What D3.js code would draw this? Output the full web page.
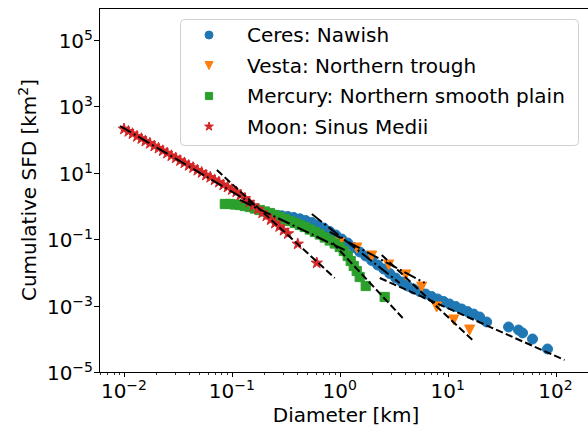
<!DOCTYPE html>
<html>
<head>
<meta charset="utf-8">
<script src="https://cdn.jsdelivr.net/npm/d3@7"></script>
<style>
  body { margin: 0; background: #fff; }
  svg { display: block; font-family: "DejaVu Sans", sans-serif; }
</style>
</head>
<body>
<svg id="chart" width="588" height="429"></svg>
<script>
// Data (diameter in km, cumulative SFD in km^-2)
// -----------------------------------------------
const ceresD = [0.225, 0.255, 0.290, 0.330, 0.375, 0.427, 0.484, 0.551, 0.626, 0.711, 0.808, 0.918,
  1.043, 1.186, 1.348, 1.531, 1.741, 1.978, 2.249, 2.555, 2.904, 3.30, 3.75, 4.26, 4.84, 5.51, 6.25,
  7.11, 8.08, 9.18, 10.4, 11.9, 13.5, 15.3, 17.4, 19.8, 23.0, 36.7, 45.4, 49.5, 61.2, 84.3];
const ceresN = [0.536, 0.525, 0.507, 0.483, 0.451, 0.411, 0.366, 0.318, 0.268, 0.217, 0.171, 0.134,
  0.1014, 0.0769, 0.0562, 0.0412, 0.0312, 0.0228, 0.0167, 0.01265, 0.00927, 0.00678, 0.00514, 0.00389,
  0.00316, 0.00266, 0.00223, 0.00188, 0.00158, 0.00133, 0.00112, 0.00094, 0.00079, 0.00066, 0.000558,
  0.000454, 0.000321, 0.000227, 0.000184, 0.000150, 0.0000986, 0.0000493];

const vestaD = [1.00, 1.44, 1.98, 2.84, 4.08, 5.75, 7.91, 11.4, 16.0];
const vestaN = [0.0769, 0.0543, 0.0312, 0.0167, 0.00836, 0.00363, 0.000908, 0.000368, 0.000184];

const mercuryD = [0.0861, 0.0958, 0.1066, 0.1187, 0.1318, 0.1468, 0.163, 0.1816, 0.2022, 0.2249,
  0.2502, 0.278, 0.3097, 0.3444, 0.383, 0.4266, 0.4742, 0.5275, 0.5871, 0.653, 0.7263, 0.808, 0.8987,
  1.0, 1.089, 1.186, 1.264, 1.348, 1.437, 1.531, 1.741, 2.61];
const mercuryN = [1.15, 1.15, 1.11, 1.07, 1.00, 0.933, 0.841, 0.758, 0.683, 0.615, 0.536, 0.466, 0.406,
  0.353, 0.308, 0.268, 0.233, 0.196, 0.165, 0.1386, 0.1125, 0.0914, 0.0742, 0.0582, 0.0441, 0.0312,
  0.0220, 0.0156, 0.0110, 0.00727, 0.00389, 0.00182];

const moonD = [0.0100, 0.0110, 0.0120, 0.0132, 0.0145, 0.0158, 0.0174, 0.0191, 0.0209, 0.0229, 0.0251,
  0.0275, 0.0302, 0.0331, 0.0363, 0.0398, 0.0437, 0.0479, 0.0525, 0.0575, 0.0631, 0.0692, 0.0759, 0.0832,
  0.0912, 0.100, 0.110, 0.120, 0.132, 0.145, 0.158, 0.174, 0.191, 0.209, 0.229, 0.251, 0.275, 0.302,
  0.331, 0.408, 0.612];
const moonN = [208, 176, 150, 125, 107, 90, 77, 64, 55, 46, 39, 32.5, 28, 23.2, 19.9, 16.6, 14.3, 11.9,
  10.2, 8.5, 7.3, 6.1, 5.2, 4.3, 3.7, 3.1, 2.65, 2.12, 1.68, 1.30, 1.01, 0.80, 0.62, 0.50, 0.385, 0.305,
  0.24, 0.185, 0.147, 0.0717, 0.0192];

// Power-law fits: [D start, D end] and [N start, N end] per segment
const ceresFitD = [[0.551, 3.59], [2.35, 121]];
const ceresFitN = [[0.574, 0.0048], [0.00678, 0.0000230]];
const vestaFitD = [[0.808, 6.12], [2.45, 17.0]];
const vestaFitN = [[0.165, 0.0048], [0.0334, 0.000092]];
const mercuryFitD = [[0.1187, 1.11], [0.861, 3.83]];
const mercuryFitN = [[1.52, 0.0473], [0.0769, 0.000424]];
const moonFitD = [[0.00918, 0.163], [0.0726, 0.899]];
const moonFitN = [[257, 1.07], [12.1, 0.00678]];

const seriesNames = ["Ceres: Nawish", "Vesta: Northern trough", "Mercury: Northern smooth plain", "Moon: Sinus Medii"];
const xTicks = [1e-2, 1e-1, 1e0, 1e1, 1e2];
const yTicks = [1e-5, 1e-3, 1e-1, 1e1, 1e3, 1e5];

// Layout
// ------
const svg = d3.select("#chart");
const mLeft = 99, mRight = 588, mTop = 8, mBottom = 372;

const x = d3.scaleLog().domain([0.00587, 200]).range([mLeft, mRight]);
const y = d3.scaleLog().domain([1e-5, Math.pow(10, 5.964)]).range([mBottom, mTop]);

// Marker shapes
const shapes = {
  circle: r => d3.symbol(d3.symbolCircle, Math.PI * r * r)(),
  triangle: r => `M${-r},${-r}L${r},${-r}L0,${r}Z`,
  square: r => `M${-r},${-r}H${r}V${r}H${-r}Z`,
  star: r => {
    const pts = [];
    for (let i = 0; i < 10; i++) {
      const a = -Math.PI / 2 + i * Math.PI / 5;
      const rr = i % 2 === 0 ? r : r * 0.382;
      pts.push([rr * Math.cos(a), rr * Math.sin(a)]);
    }
    return "M" + pts.map(p => p.join(",")).join("L") + "Z";
  }
};

const series = [
  { d: ceresD, n: ceresN, color: "#1f77b4", shape: "circle", size: 5.0, legendSize: 4.0 },
  { d: vestaD, n: vestaN, color: "#ff7f0e", shape: "triangle", size: 5.0, legendSize: 4.0 },
  { d: mercuryD, n: mercuryN, color: "#2ca02c", shape: "square", size: 4.6, legendSize: 3.6 },
  { d: moonD, n: moonN, color: "#d62728", shape: "star", size: 6.0, legendSize: 4.6 }
];

const plot = svg.append("g");

series.forEach(s => {
  plot.append("g").selectAll("path")
    .data(d3.range(s.d.length))
    .join("path")
    .attr("transform", i => `translate(${x(s.d[i])},${y(s.n[i])})`)
    .attr("d", shapes[s.shape](s.size))
    .attr("fill", s.color)
    .attr("stroke", s.color)
    .attr("stroke-width", 1)
    .attr("stroke-linejoin", "miter");
});

// Fit lines (first segment dash-dot, second dashed)
const dashes = ["12.8,3.2,2,3.2", "7.4,3.2"];
[[ceresFitD, ceresFitN], [vestaFitD, vestaFitN], [mercuryFitD, mercuryFitN], [moonFitD, moonFitN]]
  .forEach(([fd, fn]) => {
    fd.forEach((seg, k) => {
      plot.append("line")
        .attr("x1", x(seg[0])).attr("y1", y(fn[k][0]))
        .attr("x2", x(seg[1])).attr("y2", y(fn[k][1]))
        .attr("stroke", "#000")
        .attr("stroke-width", 2)
        .attr("stroke-dasharray", dashes[k]);
    });
  });

// Axes
// ----
const sup = (sel, v) => {
  const e = Math.round(Math.log10(v));
  sel.append("tspan").text("10");
  sel.append("tspan").attr("dy", -8).attr("font-size", 14).text(e < 0 ? "\u2212" + (-e) : String(e));
};

const axes = svg.append("g").attr("stroke", "#000");
axes.append("line").attr("x1", mLeft + 0.5).attr("x2", mLeft + 0.5).attr("y1", mTop).attr("y2", mBottom + 0.5);
axes.append("line").attr("x1", mLeft).attr("x2", mRight + 1).attr("y1", mBottom + 0.5).attr("y2", mBottom + 0.5);
axes.append("line").attr("x1", mLeft).attr("x2", mRight + 1).attr("y1", mTop + 0.5).attr("y2", mTop + 0.5);

// x minor ticks
const xMinor = [];
for (let e = -3; e <= 2; e++) for (let m = 2; m <= 9; m++) {
  const v = m * Math.pow(10, e);
  if (v > x.domain()[0] && v < x.domain()[1]) xMinor.push(v);
}
axes.selectAll(".xminor").data(xMinor).join("line")
  .attr("x1", d => Math.round(x(d)) + 0.5).attr("x2", d => Math.round(x(d)) + 0.5)
  .attr("y1", mBottom).attr("y2", mBottom + 3).attr("stroke-width", 0.8);

axes.selectAll(".xmajor").data(xTicks).join("line")
  .attr("x1", d => Math.round(x(d)) + 0.5).attr("x2", d => Math.round(x(d)) + 0.5)
  .attr("y1", mBottom).attr("y2", mBottom + 5);

axes.selectAll(".ymajor").data(yTicks).join("line")
  .attr("x1", mLeft - 5).attr("x2", mLeft)
  .attr("y1", d => Math.round(y(d)) + 0.5).attr("y2", d => Math.round(y(d)) + 0.5);

const labels = svg.append("g").attr("font-size", 20).attr("fill", "#000");

xTicks.forEach(v => {
  labels.append("text").attr("x", x(v)).attr("y", 398).attr("text-anchor", "middle").call(sup, v);
});
yTicks.forEach(v => {
  labels.append("text").attr("x", 93).attr("y", y(v) + 8).attr("text-anchor", "end").call(sup, v);
});

labels.append("text").attr("x", 346).attr("y", 422)
  .attr("text-anchor", "middle").text("Diameter [km]");

const yl = labels.append("text")
  .attr("transform", `translate(36,${(mTop + mBottom) / 2}) rotate(-90)`)
  .attr("text-anchor", "middle");
yl.append("tspan").text("Cumulative SFD [km");
yl.append("tspan").attr("dy", -8).attr("font-size", 14).text("2");
yl.append("tspan").attr("dy", 8).text("]");

// Legend
// ------
const legend = svg.append("g");
legend.append("rect")
  .attr("x", 180.5).attr("y", 19.5).attr("width", 398).attr("height", 126).attr("rx", 4)
  .attr("fill", "#fff").attr("fill-opacity", 0.8).attr("stroke", "#d0d0d0");

seriesNames.forEach((name, i) => {
  const s = series[i];
  const ly = 35 + i * 30.5;
  legend.append("path")
    .attr("transform", `translate(209,${ly})`)
    .attr("d", shapes[s.shape](s.legendSize))
    .attr("fill", s.color).attr("stroke", s.color);
  legend.append("text")
    .attr("x", 247).attr("y", ly + 7)
    .attr("font-size", 20)
    .text(name);
});
</script>
</body>
</html>
